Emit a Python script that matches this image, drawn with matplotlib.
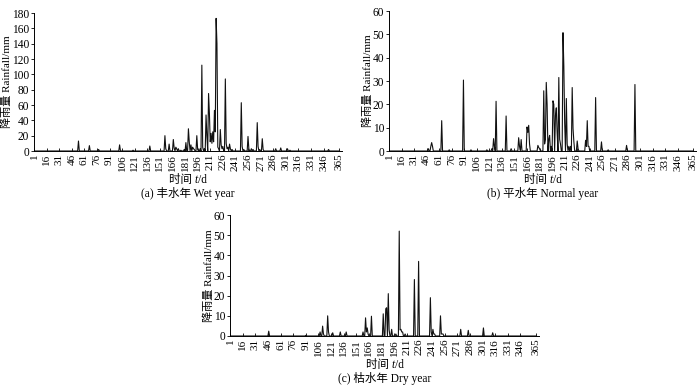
import numpy as np
import matplotlib

matplotlib.use("Agg")
import matplotlib.pyplot as plt
from matplotlib.offsetbox import AnnotationBbox, HPacker, TextArea

plt.rcParams["font.family"] = ["Liberation Serif", "Noto Sans CJK SC"]
plt.rcParams["font.size"] = 8.3

# daily rainfall (mm), only the rainy days are listed
wet_days = [54, 67, 78, 103, 119, 139, 157, 158, 162, 167, 168, 170, 171, 173, 176,
            180, 182, 185, 186, 188, 190, 191, 192, 195, 196, 199, 201, 202, 204, 206,
            207, 209, 210, 211, 212, 213, 214, 215, 216, 217, 218, 219, 220, 221, 223,
            224, 225, 226, 229, 230, 231, 232, 234, 235, 237, 248, 249, 251, 256, 257,
            260, 262, 267, 268, 270, 273, 274, 289, 295, 303, 306, 352]
wet_rain = [13, 7, 2, 8, 1, 6.5, 20, 3, 9, 15, 4, 5, 3, 3, 1,
            2, 11, 29, 12, 8, 5, 3, 2, 20, 2, 3, 112, 5, 3, 47,
            20, 75, 49, 12, 23, 10, 25, 12, 53, 25, 173, 140, 5, 3, 28,
            8, 3, 6, 94, 10, 3, 5, 9, 3, 2, 63, 6, 2, 19, 3,
            3, 2, 37, 6, 2, 16, 2, 3, 4, 3, 1, 2]

normal_days = [48, 51, 52, 53, 64, 73, 90, 99, 118, 124, 126, 127, 129, 141, 147,
               156, 157, 159, 166, 167, 168, 169, 179, 180, 181, 186, 187, 188, 189, 190,
               192, 193, 195, 197, 198, 200, 201, 202, 204, 205, 206, 209, 210, 211, 213,
               214, 216, 218, 220, 221, 222, 226, 227, 236, 237, 238, 239, 240, 248, 255,
               263, 285, 295]
normal_rain = [1, 2, 3.6, 2, 13, 0.5, 30.4, 0.5, 0.5, 1, 5.3, 2, 21.3, 15, 1,
               5.7, 2, 4.9, 10.3, 8, 11, 3, 2.4, 1.5, 1, 25.8, 3, 5, 29.4, 20,
               5, 6.7, 2, 21.5, 20, 15.3, 18.5, 8, 31.5, 5, 3, 50.7, 36.4, 12, 22.5,
               3, 2, 2, 27.2, 9.6, 4, 4.3, 1, 4.6, 2, 13, 2, 2, 22.9, 3.9,
               0.5, 2.4, 28.5]

dry_days = [47, 91, 108, 111, 112, 117, 118, 123, 132, 139, 159, 162, 163, 164, 165,
            169, 183, 186, 187, 189, 190, 193, 198, 202, 203, 204, 205, 206, 209, 220,
            225, 239, 240, 242, 243, 244, 251, 252, 253, 254, 275, 284, 302, 313]
dry_rain = [2.4, 0.3, 2, 4.9, 1, 10, 2, 1.6, 2, 2, 2, 9, 2, 4, 1,
            9.8, 11, 13.5, 14, 21, 3, 3.3, 1, 52, 3, 3.3, 2, 2, 1, 28,
            37, 19, 2, 3.3, 1, 1, 10, 1, 1, 1, 3.3, 2.8, 4, 1.6]

xtick_days = [1, 16, 31, 46, 61, 76, 91, 106, 121, 136, 151, 166, 181, 196, 211,
              226, 241, 256, 271, 286, 301, 316, 331, 346, 365]
captions = ["(a) 丰水年 Wet year", "(b) 平水年 Normal year", "(c) 枯水年 Dry year"]


def daily(days, rain):
    s = np.zeros(365)
    s[np.asarray(days) - 1] = rain
    return s


def draw(ax, days, rain, ymax, ystep, caption):
    t = np.arange(1, 366)
    ax.plot(t, daily(days, rain), color="#111111", lw=0.8)
    ax.set_xlim(1, 368)
    ax.set_ylim(0, ymax)
    ax.set_yticks(np.arange(0, ymax + 1, ystep))
    ax.set_xticks(xtick_days)
    ax.set_xticklabels([str(d) for d in xtick_days], rotation=90)
    for side in ("top", "right"):
        ax.spines[side].set_visible(False)
    for side in ("left", "bottom"):
        ax.spines[side].set_linewidth(0.7)
    ax.tick_params(axis="y", direction="out", length=2.5, width=0.6, pad=1,
                   labelsize=8.3)
    ax.tick_params(axis="x", direction="in", length=2, width=0.6, pad=2,
                   labelsize=8)
    ax.set_ylabel("降雨量 Rainfall/mm", fontsize=8, labelpad=0)

    # x label with italic t
    xl = HPacker(children=[TextArea("时间 "),
                           TextArea("t", textprops=dict(style="italic")),
                           TextArea("/d")],
                 align="baseline", pad=0, sep=0)
    ax.add_artist(AnnotationBbox(xl, (0.5, 0), xycoords="axes fraction",
                                 xybox=(0, -21), boxcoords="offset points",
                                 frameon=False, box_alignment=(0.5, 0.5)))
    ax.annotate(caption, (0.5, 0), xycoords="axes fraction",
                xytext=(0, -30.5), textcoords="offset points",
                ha="center", va="center")


fig = plt.figure(figsize=(7.0, 3.86), dpi=100)
ax_a = fig.add_axes([34 / 700, 1 - 151 / 386, 308 / 700, 138 / 386])
ax_b = fig.add_axes([389 / 700, 1 - 151 / 386, 307 / 700, 140 / 386])
ax_c = fig.add_axes([230 / 700, 1 - 336 / 386, 309 / 700, 121 / 386])

draw(ax_a, wet_days, wet_rain, 180, 20, captions[0])
draw(ax_b, normal_days, normal_rain, 60, 10, captions[1])
draw(ax_c, dry_days, dry_rain, 60, 10, captions[2])

fig.savefig("out.png", dpi=100)
